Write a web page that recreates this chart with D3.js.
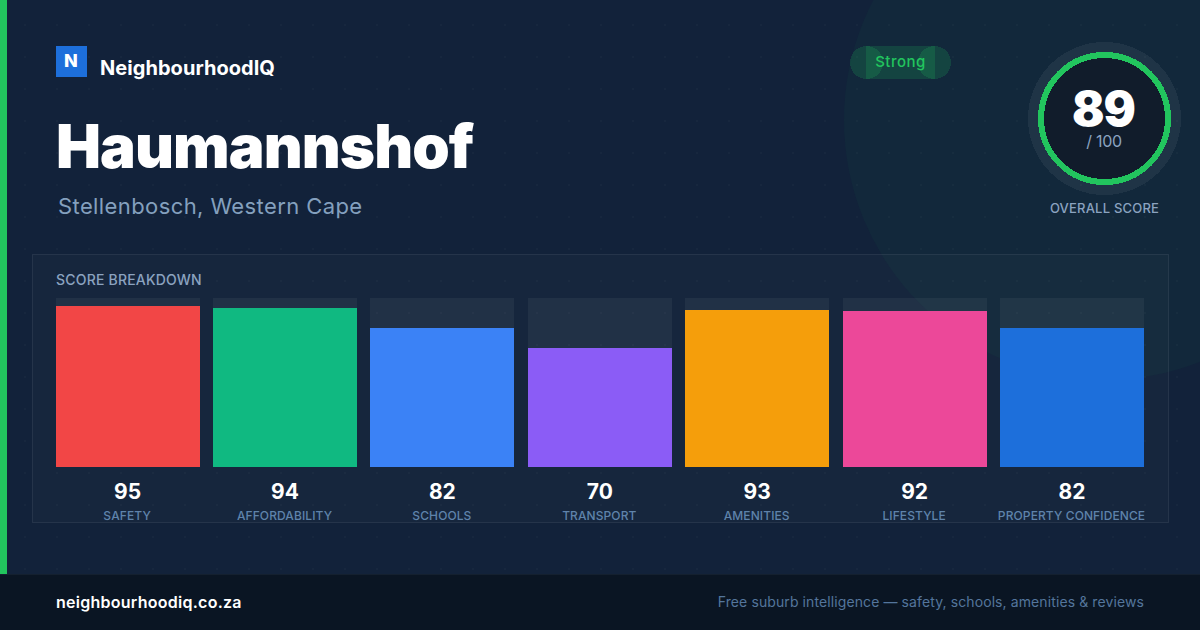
<!DOCTYPE html>
<html>
<head>
<meta charset="utf-8">
<script src="https://cdn.jsdelivr.net/npm/d3@7"></script>
<style>
  html, body { margin:0; padding:0; background:#12223a; }
  svg { display:block; }
  text { font-family:'Inter', sans-serif; }
</style>
</head>
<body>
<div class="canvas"></div>
<script>
// chart values
const categories = ['SAFETY', 'AFFORDABILITY', 'SCHOOLS', 'TRANSPORT', 'AMENITIES', 'LIFESTYLE', 'PROPERTY CONFIDENCE'];
const scores = [95, 94, 82, 70, 93, 92, 82];
const barColors = ['#f24646', '#10b981', '#3b82f6', '#8b5cf6', '#f59e0b', '#ec4899', '#1d6fdb'];

const suburb = 'Haumannshof';
const region = 'Stellenbosch, Western Cape';
const overall = 89;
const rating = 'Strong';

const width = 1200, height = 630;

const svg = d3.select('.canvas')
              .append('svg')
              .attr('width', width)
              .attr('height', height);

// background
svg.append('rect').attr('width', width).attr('height', height).attr('fill', '#12223a');

// big tinted circle top right
svg.append('circle')
   .attr('cx', 1104).attr('cy', 120).attr('r', 260)
   .attr('fill', '#22c55e').attr('fill-opacity', 0.04);

// dot grid
const dotsX = d3.range(24, width, 32);
const dotsY = d3.range(24, 574, 32);
const dots = svg.append('g').attr('fill', '#ffffff').attr('fill-opacity', 0.025);
dotsY.forEach(y => {
  dotsX.forEach(x => {
    dots.append('rect').attr('x', x).attr('y', y).attr('width', 2).attr('height', 2);
  });
});

// left strip and footer
svg.append('rect').attr('width', 7).attr('height', 574).attr('fill', '#22c55e');
svg.append('rect').attr('y', 574).attr('width', width).attr('height', 56).attr('fill', '#0a1523');
svg.append('rect').attr('y', 574).attr('width', width).attr('height', 1).attr('fill', '#14202f');

// logo
svg.append('rect').attr('x', 56).attr('y', 46).attr('width', 31).attr('height', 31).attr('fill', '#1d6fdb');
svg.append('text').attr('x', 71).attr('y', 67).attr('text-anchor', 'middle')
   .attr('font-size', 18).attr('font-weight', 800).attr('fill', '#fff').text('N');
svg.append('text').attr('x', 100).attr('y', 75)
   .attr('font-size', 20).attr('font-weight', 700).attr('letter-spacing', 0.05).attr('fill', '#fff').text('NeighbourhoodIQ');

// title
svg.append('text').attr('x', 56).attr('y', 168)
   .attr('font-size', 60).attr('font-weight', 900).attr('letter-spacing', -0.9).attr('fill', '#fff').text(suburb);
svg.append('text').attr('x', 58).attr('y', 214)
   .attr('font-size', 22).attr('letter-spacing', 0.4).attr('fill', '#84a0be').text(region);

// rating pill, pieces overlap like in the original
const pill = svg.append('g').attr('fill', '#22c55e').attr('fill-opacity', 0.18).attr('shape-rendering', 'crispEdges');
pill.append('circle').attr('cx', 866.5).attr('cy', 62.5).attr('r', 16.5);
pill.append('circle').attr('cx', 934.5).attr('cy', 62.5).attr('r', 16.5);
pill.append('rect').attr('x', 866).attr('y', 46).attr('width', 69).attr('height', 33);
svg.append('text').attr('x', 900.5).attr('y', 67).attr('text-anchor', 'middle')
   .attr('font-size', 15).attr('font-weight', 500).attr('letter-spacing', 0.5).attr('fill', '#22c55e').text(rating);

// score gauge
const gauge = svg.append('g').attr('shape-rendering', 'crispEdges');
gauge.append('circle').attr('cx', 1104.5).attr('cy', 118.5).attr('r', 76.5).attr('fill', '#ffffff').attr('fill-opacity', 0.06);
gauge.append('circle').attr('cx', 1104.5).attr('cy', 118.5).attr('r', 63.5)
     .attr('fill', '#111c2b').attr('stroke', '#22c55e').attr('stroke-width', 6);
svg.append('text').attr('x', 1103.5).attr('y', 126).attr('text-anchor', 'middle')
   .attr('font-size', 48).attr('font-weight', 900).attr('letter-spacing', -1).attr('fill', '#fff').text(overall);
svg.append('text').attr('x', 1104).attr('y', 147).attr('text-anchor', 'middle')
   .attr('font-size', 16).attr('letter-spacing', -0.3).attr('fill', '#8ba3c0').text('/ 100');
svg.append('text').attr('x', 1104.5).attr('y', 213).attr('text-anchor', 'middle')
   .attr('font-size', 13).attr('font-weight', 500).attr('letter-spacing', 0.2).attr('fill', '#8ba3c0').text('OVERALL SCORE');

// panel
svg.append('rect').attr('x', 32.5).attr('y', 254.5).attr('width', 1136).attr('height', 268)
   .attr('fill', '#ffffff').attr('fill-opacity', 0.02)
   .attr('stroke', '#ffffff').attr('stroke-opacity', 0.08);
svg.append('text').attr('x', 56).attr('y', 285)
   .attr('font-size', 14).attr('font-weight', 500).attr('letter-spacing', 0.2).attr('fill', '#8ba3c0').text('SCORE BREAKDOWN');

// scales
const x = d3.scaleBand().domain(categories).range([55.6, 1144]).paddingInner(13.4 / 157.4);
const y = d3.scaleLinear().domain([0, 100]).range([467, 297.68]);

const graph = svg.append('g').attr('shape-rendering', 'crispEdges');

// tracks
graph.selectAll('rect.track')
     .data(categories)
     .enter().append('rect')
     .attr('class', 'track')
     .attr('x', d => x(d))
     .attr('y', y(100))
     .attr('width', x.bandwidth())
     .attr('height', y(0) - y(100))
     .attr('fill', '#ffffff').attr('fill-opacity', 0.05);

// bars
graph.selectAll('rect.bar')
     .data(scores)
     .enter().append('rect')
     .attr('class', 'bar')
     .attr('x', (d, i) => x(categories[i]))
     .attr('y', d => y(d))
     .attr('width', x.bandwidth())
     .attr('height', d => y(0) - y(d))
     .attr('fill', (d, i) => barColors[i]);

// values
svg.selectAll('text.value')
   .data(scores)
   .enter().append('text')
   .attr('class', 'value')
   .attr('x', (d, i) => x(categories[i]) + x.bandwidth() / 2)
   .attr('y', 499)
   .attr('text-anchor', 'middle')
   .attr('font-size', 21).attr('font-weight', 700).attr('fill', '#fff')
   .text(d => d);

// category names
const xAxis = d3.axisBottom(x).tickSize(0).tickPadding(0);
const xAxisGroup = svg.append('g').attr('transform', 'translate(-0.5, 511)').call(xAxis);
xAxisGroup.select('.domain').remove();
xAxisGroup.selectAll('text')
          .attr('font-family', null)
          .attr('font-size', 12).attr('font-weight', 500).attr('letter-spacing', 0.1)
          .attr('fill', '#5f83ab');

// footer text
svg.append('text').attr('x', 56).attr('y', 608)
   .attr('font-size', 16).attr('font-weight', 600).attr('letter-spacing', 0.26).attr('fill', '#fff').text('neighbourhoodiq.co.za');
svg.append('text').attr('x', 1144).attr('y', 607).attr('text-anchor', 'end')
   .attr('font-size', 14).attr('letter-spacing', 0.1).attr('fill', '#54759c').text('Free suburb intelligence — safety, schools, amenities & reviews');
</script>
</body>
</html>
